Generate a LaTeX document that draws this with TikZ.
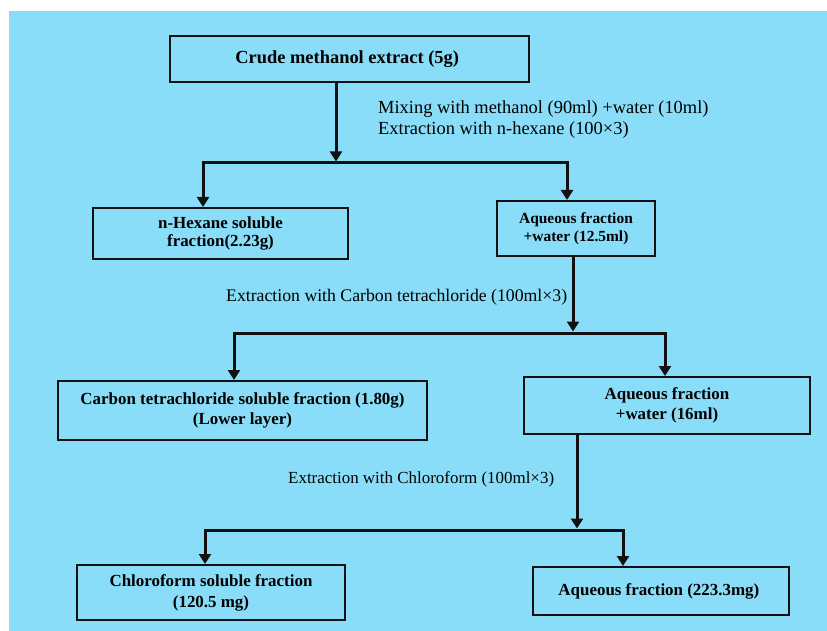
\documentclass[tikz,border=0pt]{standalone}
\usepackage{fontspec}
\setmainfont{Liberation Serif}
\usepackage{xcolor}
\usepackage{tikz}
\usetikzlibrary{arrows.meta,positioning}
\definecolor{skyfill}{HTML}{89DDF8}
\definecolor{inkline}{HTML}{111111}

\begin{document}
\begin{tikzpicture}[x=1bp, y=-1bp,
  fracbox/.style={
    rectangle, draw=inkline, line width=2bp,
    align=center, inner sep=2pt,
  },
  flowline/.style={draw=inkline, line width=3bp, line join=miter},
  flowarrow/.style={flowline, -{Triangle[width=12bp,length=10bp]}},
  steplabel/.style={anchor=west, align=left, inner sep=0pt},
]

\useasboundingbox (0,0) rectangle (827,631);
\fill[skyfill] (9,11) rectangle (827,631);

% fractions
\node[fracbox, minimum width=359bp, minimum height=46bp,
  font=\fontsize{18.5}{22}\selectfont\bfseries] (crude) at (349.5,59) {
  Crude methanol extract (5g)
};
\node[fracbox, minimum width=255bp, minimum height=51bp,
  font=\fontsize{17}{19}\selectfont\bfseries] (hexane) at (220.5,233.5) {
  n-Hexane soluble\\fraction(2.23g)
};
\node[fracbox, minimum width=158bp, minimum height=55bp,
  font=\fontsize{15.5}{18}\selectfont\bfseries] (aqone) at (576,228.5) {
  Aqueous fraction\\+water (12.5ml)
};
\node[fracbox, minimum width=369bp, minimum height=59bp,
  font=\fontsize{17}{20}\selectfont\bfseries] (carbon) at (242.5,410.5) {
  Carbon tetrachloride soluble fraction (1.80g)\\(Lower layer)
};
\node[fracbox, minimum width=286bp, minimum height=57bp,
  font=\fontsize{17}{20}\selectfont\bfseries] (aqtwo) at (667,405.5) {
  Aqueous fraction\\+water (16ml)
};
\node[fracbox, minimum width=268bp, minimum height=55bp,
  font=\fontsize{17}{21}\selectfont\bfseries] (chloro) at (211,592.5) {
  Chloroform soluble fraction\\(120.5 mg)
};
\node[fracbox, minimum width=256bp, minimum height=48bp,
  font=\fontsize{17}{20}\selectfont\bfseries] (aqthree) at (661,591) {
  Aqueous fraction (223.3mg)
};

% step labels
\node[steplabel, font=\fontsize{18.5}{21}\selectfont] (mixlabel) at (378,119.5) {
  Mixing with methanol (90ml) +water (10ml)\\
  Extraction with n-hexane (100\texttimes3)
};
\node[steplabel, font=\fontsize{17.8}{21}\selectfont] (carblabel) at (226,297) {
  Extraction with Carbon tetrachloride (100ml\texttimes3)
};
\node[steplabel, font=\fontsize{17}{21}\selectfont] (chlorlabel) at (288,479) {
  Extraction with Chloroform (100ml\texttimes3)
};

% split points
\coordinate (splitA) at (336,163);
\coordinate (splitAl) at (203,163);
\coordinate (splitAr) at (567,163);
\coordinate (splitB) at (573,333);
\coordinate (splitBl) at (234,333);
\coordinate (splitBr) at (665,333);
\coordinate (splitC) at (577,530);
\coordinate (splitCl) at (205,530);
\coordinate (splitCr) at (623,530);

% first split
\draw[flowarrow, shorten >=1.5bp] (crude.south -| splitA) -- (splitA);
\draw[flowarrow] (splitAr) -- (splitAl) -- (hexane.north -| splitAl);
\draw[flowarrow] (splitAl) -- (splitAr) -- (aqone.north -| splitAr);

% second split
\draw[flowarrow, shorten >=1.5bp] (aqone.south -| splitB) -- (splitB);
\draw[flowarrow] (splitBr) -- (splitBl) -- (carbon.north -| splitBl);
\draw[flowarrow] (splitBl) -- (splitBr) -- (aqtwo.north -| splitBr);

% third split
\draw[flowarrow, shorten >=1.5bp] (aqtwo.south -| splitC) -- (splitC);
\draw[flowarrow] (splitCr) -- (splitCl) -- (chloro.north -| splitCl);
\draw[flowarrow] (splitCl) -- (splitCr) -- (aqthree.north -| splitCr);

\end{tikzpicture}
\end{document}
